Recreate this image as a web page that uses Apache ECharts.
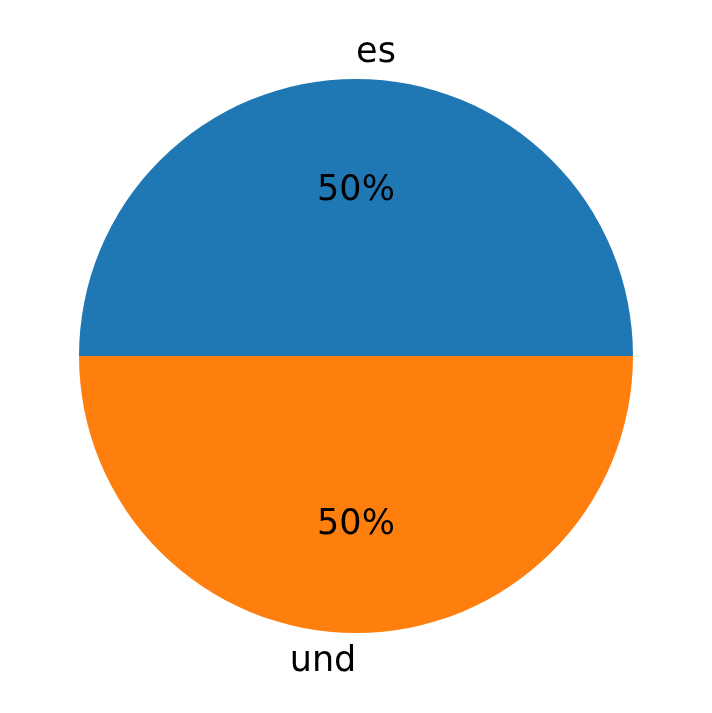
<!DOCTYPE html>
<html>
<head>
<meta charset="utf-8">
<script src="https://cdn.jsdelivr.net/npm/echarts@6/dist/echarts.min.js"></script>
<style>html,body{margin:0;padding:0;background:#fff}#c{width:712px;height:713px}</style>
</head>
<body>
<div id="c"></div>
<script>
const categories = ['es', 'und'];
const values = [1, 1];
const colors = ['#1f77b4', '#ff7f0e'];

const R = 277;
const font = 'DejaVu Sans';
const total = values.reduce((a, b) => a + b, 0);
const pctOffsets = [[0, 4], [0, 0]];
const nameOffsets = [[20, 5], [-33, -2]];
const chart = echarts.init(document.getElementById('c'));
const base = {
  type: 'pie', center: [356, 356], startAngle: 180, clockwise: true,
  silent: true, animation: false, labelLine: { show: false }
};
chart.setOption({
  backgroundColor: '#fff',
  series: [
    Object.assign({}, base, {
      radius: [0, R],
      label: { show: false },
      data: categories.map((c, i) => ({ name: c, value: values[i], itemStyle: { color: colors[i] } }))
    }),
    Object.assign({}, base, {
      radius: [0, R * 1.2], z: 3,
      itemStyle: { color: 'rgba(0,0,0,0)' },
      label: { show: true, position: 'inside', fontFamily: font, fontSize: 35, color: '#000',
        formatter: p => Math.round(p.value / total * 100) + '%' },
      data: categories.map((c, i) => ({ name: c, value: values[i], label: { offset: pctOffsets[i] } }))
    }),
    Object.assign({}, base, {
      radius: [0, R * 2.2], z: 3,
      itemStyle: { color: 'rgba(0,0,0,0)' },
      label: { show: true, position: 'inside', fontFamily: font, fontSize: 35, color: '#000',
        formatter: p => p.name },
      data: categories.map((c, i) => ({ name: c, value: values[i], label: { offset: nameOffsets[i] } }))
    })
  ]
});
</script>
</body>
</html>
